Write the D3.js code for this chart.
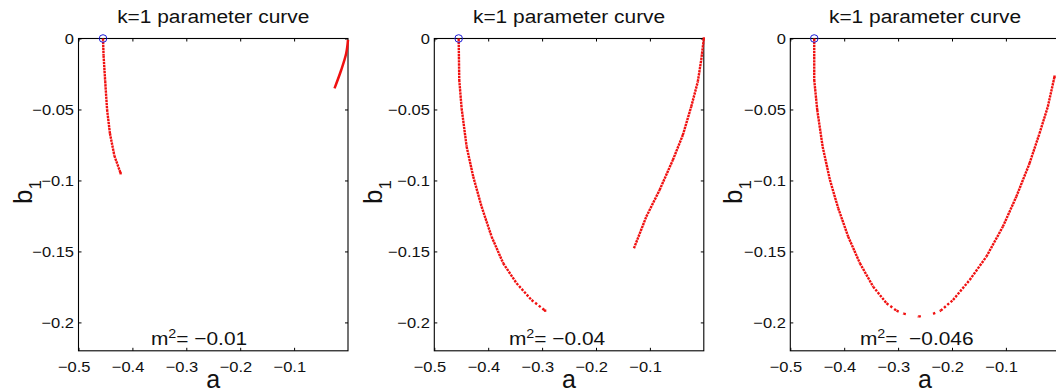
<!DOCTYPE html>
<html><head><meta charset="utf-8">
<script src="https://cdn.jsdelivr.net/npm/d3@7"></script>
<style>
html,body{margin:0;padding:0;background:#fff;}
svg{display:block;font-family:"Liberation Sans",Arial,Helvetica,sans-serif;}
</style></head><body>
<svg id="chart" width="1056" height="392"></svg>
<script>
// ---------------- data ----------------
const titles = ["k=1 parameter curve", "k=1 parameter curve", "k=1 parameter curve"];
const massValues = ["−0.01", "−0.04", " −0.046"];
const xTicks = [-0.5, -0.4, -0.3, -0.2, -0.1];
const xTickLabels = ["−0.5", "−0.4", "−0.3", "−0.2", "−0.1"];
const yTicks = [0, -0.05, -0.1, -0.15, -0.2];
const yTickLabels = ["0", "−0.05", "−0.1", "−0.15", "−0.2"];
const xDomain = [-0.5, 0];
const yDomain = [-0.22, 0];
const startA = [-0.4545, -0.4548, -0.4556];   // blue circle (a, b=0)

// m^2 = -0.01
const p1Left = [[-0.4545,0],[-0.4535,-0.012],[-0.4505,-0.03],[-0.447,-0.05],[-0.4417,-0.0668],[-0.4335,-0.0825],[-0.4219,-0.0949]];
const p1Right = [[-0.025,-0.0351],[-0.0126,-0.0222],[-0.0033,-0.0104],[0,-0.001]];
// m^2 = -0.04
const p2Left = [[-0.4548,0],[-0.4537,-0.0292],[-0.4493,-0.0492],[-0.44,-0.0762],[-0.4278,-0.0973],[-0.4122,-0.1185],[-0.3937,-0.1396],[-0.3722,-0.1583],[-0.3474,-0.1724],[-0.3196,-0.1842],[-0.2944,-0.1917]];
const p2Right = [[-0.1296,-0.1478],[-0.1067,-0.1255],[-0.082,-0.1067],[-0.0574,-0.0856],[-0.0389,-0.068],[-0.0233,-0.048],[-0.0111,-0.0304],[-0.0048,-0.0151],[-0.0006,-0.0022],[0,0]];
// m^2 = -0.046
const p3Curve = [[-0.4556,0],[-0.4556,-0.0292],[-0.45,-0.0504],[-0.44,-0.0762],[-0.4265,-0.0996],[-0.4111,-0.1196],[-0.3926,-0.1396],[-0.3709,-0.1583],[-0.3463,-0.1748],[-0.3215,-0.1865],[-0.303,-0.1917],[-0.29,-0.1938],[-0.2622,-0.1959],[-0.2352,-0.194],[-0.221,-0.1917],[-0.1981,-0.1842],[-0.1672,-0.1701],[-0.1363,-0.1537],[-0.1056,-0.1325],[-0.0807,-0.1114],[-0.0561,-0.0879],[-0.0376,-0.0668],[-0.0222,-0.048],[-0.0098,-0.0269]];
// sampling step in b for each branch (0 = drawn as continuous line)
const branchStep = { p1Left: 0.002, p1Right: 0, p2Left: 0.002, p2Right: 0.002, p3Curve: 0.002 };

const panels = [
  { branches: [["p1Left", p1Left], ["p1Right", p1Right]] },
  { branches: [["p2Left", p2Left], ["p2Right", p2Right]] },
  { branches: [["p3Curve", p3Curve]] }
];

// ---------------- layout ----------------
const panelLeft = [78.5, 434.3, 790.3];
const panelTop = 38.5, panelW = 269.5, panelH = 312.3;
const ylabelOffset = [46.5, 52, 48];
const massPosA = [-0.3657, -0.3615, -0.3709];
const massPosB = -0.2158;
const SX = 1.1;   // horizontal text stretch
const RED = "#f01010";
const DOT = 2.4;

const svg = d3.select("#chart");
svg.append("rect").attr("width", 1056).attr("height", 392).attr("fill", "#fff");

panels.forEach((p, pi) => {
  const L = panelLeft[pi];
  const x = d3.scaleLinear().domain(xDomain).range([L, L + panelW]);
  const y = d3.scaleLinear().domain(yDomain).range([panelTop + panelH, panelTop]);
  const g = svg.append("g");

  // box
  g.append("rect").attr("x", L).attr("y", panelTop).attr("width", panelW).attr("height", panelH)
    .attr("fill", "none").attr("stroke", "#000").attr("stroke-width", 1.1);

  const styleAxis = sel => {
    sel.select(".domain").remove();
    sel.attr("font-family", null).attr("font-size", null).attr("color", "#000");
    sel.selectAll(".tick line").attr("stroke-width", 1);
  };
  // bottom axis
  const gb = g.append("g").attr("transform", `translate(0,${panelTop + panelH})`)
    .call(d3.axisBottom(x).tickValues(xTicks).tickFormat((d, i) => xTickLabels[i]).tickSizeInner(-3).tickSizeOuter(0));
  styleAxis(gb);
  gb.selectAll(".tick text").attr("y", 0).attr("dy", 0).attr("font-size", 15).attr("fill", "#111")
    .attr("transform", `translate(-4.8,21) scale(${SX},1)`);
  // top axis
  const gt = g.append("g").attr("transform", `translate(0,${panelTop})`)
    .call(d3.axisTop(x).tickValues(xTicks).tickFormat("").tickSizeInner(-3).tickSizeOuter(0));
  styleAxis(gt); gt.selectAll(".tick text").remove();
  // left axis
  const gl = g.append("g").attr("transform", `translate(${L},0)`)
    .call(d3.axisLeft(y).tickValues(yTicks).tickFormat((d, i) => yTickLabels[i]).tickSizeInner(-3).tickSizeOuter(0));
  styleAxis(gl);
  gl.selectAll(".tick text").attr("x", 0).attr("dy", 0).attr("font-size", 15).attr("fill", "#111")
    .attr("text-anchor", "end").attr("transform", `translate(-4.5,5.3) scale(${SX},1)`);
  // right axis
  const gr = g.append("g").attr("transform", `translate(${L + panelW},0)`)
    .call(d3.axisRight(y).tickValues(yTicks).tickFormat("").tickSizeInner(-3).tickSizeOuter(0));
  styleAxis(gr); gr.selectAll(".tick text").remove();

  // curves
  const stepPx = b => Math.abs(y(0) - y(-b));
  p.branches.forEach(([name, pts]) => {
    const step = branchStep[name];
    if (!step) {
      g.append("path").datum(pts)
        .attr("d", d3.line().x(d => x(d[0])).y(d => y(d[1])).curve(d3.curveCatmullRom))
        .attr("fill", "none").attr("stroke", RED).attr("stroke-width", 2.5);
      return;
    }
    const sp = stepPx(step);
    for (let i = 0; i < pts.length - 1; i++) {
      const x1 = x(pts[i][0]), y1 = y(pts[i][1]), x2 = x(pts[i + 1][0]), y2 = y(pts[i + 1][1]);
      const len = Math.hypot(x2 - x1, y2 - y1);
      const dy = Math.max(Math.abs(y2 - y1), 0.01);
      const period = sp * len / dy;
      const gap = Math.max(period - DOT, 0.7);
      g.append("path").attr("d", d3.line()([[x1, y1], [x2, y2]]))
        .attr("fill", "none").attr("stroke", RED).attr("stroke-width", DOT)
        .attr("stroke-dasharray", `${DOT},${gap.toFixed(2)}`);
    }
    const last = pts[pts.length - 1];
    g.append("rect").attr("x", x(last[0]) - DOT / 2).attr("y", y(last[1]) - DOT / 2)
      .attr("width", DOT).attr("height", DOT).attr("fill", RED);
  });

  // start circle
  g.append("circle").attr("cx", x(startA[pi])).attr("cy", y(0)).attr("r", 3.8)
    .attr("fill", "none").attr("stroke", "#1c1cd8").attr("stroke-width", 1);

  // title
  g.append("text").attr("transform", `translate(${L + panelW / 2},23) scale(${SX},1)`)
    .attr("text-anchor", "middle").attr("font-size", 19).attr("fill", "#111").text(titles[pi]);

  // x label
  g.append("text").attr("x", L + panelW / 2).attr("y", 388).attr("text-anchor", "middle")
    .attr("font-size", 25).attr("fill", "#111").text("a");

  // y label b_1
  const yl = g.append("text").attr("transform", `translate(${L - ylabelOffset[pi]},192) rotate(-90)`)
    .attr("text-anchor", "middle").attr("font-size", 26).attr("fill", "#111");
  yl.append("tspan").text("b");
  yl.append("tspan").attr("font-size", 17).attr("dy", 9).text("1");

  // m^2 annotation
  const mt = g.append("text").attr("transform", `translate(${x(massPosA[pi])},${y(massPosB)}) scale(${SX},1)`)
    .attr("font-size", 19).attr("fill", "#111").style("white-space", "pre");
  mt.append("tspan").text("m");
  mt.append("tspan").attr("font-size", 13).attr("dy", -7).text("2");
  mt.append("tspan").attr("dy", 7).text("= " + massValues[pi]);
});
</script>
</body></html>
